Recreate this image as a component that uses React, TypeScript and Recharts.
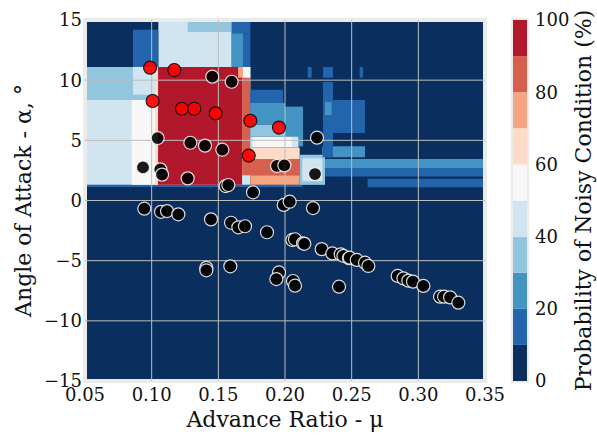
import {
  ScatterChart,
  Scatter,
  XAxis,
  YAxis,
  ReferenceArea,
  ReferenceLine,
  BarChart,
  Bar,
} from "recharts";

const muTicks = [0.05, 0.1, 0.15, 0.2, 0.25, 0.3, 0.35];
const aoaTicks = [-15, -10, -5, 0, 5, 10, 15];
const probTicks = [0, 20, 40, 60, 80, 100];

// RdBu_r, 10 levels (0-10%, 10-20%, ... 90-100%)
const levelColors = [
  "#0a2f5f",
  "#2265ac",
  "#4393c3",
  "#92c5de",
  "#d1e5f0",
  "#f7f7f7",
  "#fddbc7",
  "#f4a582",
  "#d6604d",
  "#b2182b",
];

// predicted probability regions: [mu1, mu2, aoa1, aoa2, level], painted in order
const regions = [
  [0.05, 0.35, -15, 15, 0],
  [0.05, 0.213, 1.12, 1.32, 1],
  [0.05, 0.174, 1.3, 11.1, 4],
  [0.105, 0.16, 11.1, 15, 4],
  [0.127, 0.16, 14.0, 15, 3],
  [0.16, 0.174, 13.9, 15, 1],
  [0.16, 0.1685, 11.1, 13.9, 2],
  [0.1685, 0.174, 11.1, 13.9, 1],
  [0.086, 0.105, 11.1, 14.2, 1],
  [0.05, 0.105, 8.35, 11.1, 3],
  [0.086, 0.105, 8.8, 11.1, 4],
  [0.085, 0.1025, 1.3, 8.35, 5],
  [0.1025, 0.1048, 1.3, 10.8, 6],
  [0.1048, 0.1678, 1.3, 11.1, 9],
  [0.1648, 0.1685, 10.2, 11.1, 7],
  [0.1685, 0.174, 10.2, 11.1, 5],
  [0.1678, 0.174, 3.4, 10.2, 8],
  [0.174, 0.1985, 8.1, 9.2, 1],
  [0.174, 0.2, 6.3, 8.1, 2],
  [0.2, 0.2135, 4.5, 7.8, 2],
  [0.174, 0.2, 5.3, 6.3, 3],
  [0.174, 0.21, 4.4, 5.3, 4],
  [0.176, 0.205, 4.45, 5.25, 5],
  [0.174, 0.211, 3.4, 4.4, 6],
  [0.1678, 0.211, 2.1, 3.4, 8],
  [0.174, 0.211, 1.3, 2.1, 7],
  [0.211, 0.23, 1.3, 3.8, 3],
  [0.213, 0.228, 1.6, 3.5, 4],
  [0.228, 0.26, 3.6, 4.5, 2],
  [0.23, 0.35, 2.7, 3.45, 2],
  [0.23, 0.35, 2.0, 2.7, 1],
  [0.262, 0.35, 1.1, 1.8, 1],
  [0.2285, 0.236, 3.6, 9.85, 1],
  [0.23, 0.26, 5.6, 8.35, 1],
  [0.23, 0.235, 7.1, 8.2, 2],
  [0.217, 0.22, 10.2, 11.1, 1],
  [0.2285, 0.236, 10.2, 11.1, 1],
  [0.256, 0.2585, 10.2, 11.1, 1],
];

// measured conditions [mu, aoa]
const quietPoints = [
  [0.1455, 10.29], [0.16, 9.87], [0.224, 5.22], [0.1045, 5.19], [0.129, 4.8],
  [0.14, 4.56], [0.153, 4.22], [0.194, 2.87], [0.1995, 2.92], [0.0935, 2.75],
  [0.1065, 2.59], [0.1078, 2.15], [0.127, 1.84], [0.2225, 2.2], [0.1555, 1.2],
  [0.1575, 1.29], [0.176, 0.68], [0.0945, -0.68], [0.107, -0.94], [0.1115, -0.88],
  [0.12, -1.15], [0.1445, -1.57], [0.1595, -1.85], [0.165, -2.23], [0.17, -2.14],
  [0.1865, -2.64], [0.199, -0.37], [0.2035, -0.1], [0.221, -0.63], [0.2055, -3.28],
  [0.2075, -3.22], [0.2135, -3.56], [0.2145, -3.6], [0.2275, -4.04], [0.2355, -4.4],
  [0.2418, -4.47], [0.2438, -4.6], [0.248, -4.8], [0.2485, -4.75], [0.2538, -4.94],
  [0.26, -5.17], [0.2625, -5.44], [0.141, -5.6], [0.141, -5.8], [0.159, -5.47],
  [0.1955, -5.98], [0.1935, -6.53], [0.206, -6.69], [0.2075, -7.08], [0.2405, -7.16],
  [0.2845, -6.27], [0.2888, -6.47], [0.2925, -6.66], [0.296, -6.74], [0.3038, -7.1],
  [0.3163, -7.99], [0.3193, -7.99], [0.3238, -8.05], [0.33, -8.49],
];

const noisyPoints = [
  [0.0988, 11.04], [0.117, 10.84], [0.1007, 8.27], [0.1227, 7.63], [0.132, 7.63],
  [0.148, 7.24], [0.174, 6.63], [0.1955, 6.06], [0.1728, 3.73],
];

const FONT = "DejaVu Serif";
const tickStyle = { fontFamily: FONT, fontSize: 18, fill: "#111" };
const labelStyle = { fontFamily: FONT, fontSize: 22, fill: "#111" };

const toRows = (pts: number[][]) => pts.map(([mu, aoa]) => ({ mu, aoa }));
const fmtNum = (v: number) => (v < 0 ? "\u2212" + Math.abs(v) : String(v));

const quietDot = (p: any) => (
  <circle cx={p.cx} cy={p.cy} r={6.5} fill="#000" fillOpacity={0.9} stroke="#fff" strokeOpacity={0.85} strokeWidth={1.2} />
);
const noisyDot = (p: any) => (
  <circle cx={p.cx} cy={p.cy} r={6.5} fill="#ff0000" fillOpacity={0.92} stroke="#111" strokeWidth={1.1} />
);

const rotLabel = (text: string, dx: number) => (props: any) => {
  const vb = props.viewBox;
  const x = vb.x + dx;
  const y = vb.y + vb.height / 2;
  return (
    <text x={x} y={y} transform={`rotate(-90 ${x} ${y})`} textAnchor="middle" dy="0.355em" style={labelStyle}>
      {text}
    </text>
  );
};

const bottomLabel = (text: string) => (props: any) => {
  const vb = props.viewBox;
  return (
    <text x={vb.x + vb.width / 2} y={vb.y + 46} textAnchor="middle" style={labelStyle}>
      {text}
    </text>
  );
};

const cbRow = [Object.fromEntries(levelColors.map((_, i) => [`b${i}`, 10]))];

export default function App() {
  return (
    <div style={{ position: "absolute", left: 0, top: 0, width: 597, height: 439, background: "#fff" }}>
      <div style={{ position: "absolute", left: 0, top: 0 }}>
        <ScatterChart width={530} height={439} margin={{ top: 20, right: 45, bottom: 0, left: 0 }}>
          <XAxis
            type="number"
            dataKey="mu"
            domain={[0.05, 0.35]}
            ticks={muTicks}
            allowDataOverflow
            tickFormatter={(v: number) => v.toFixed(2)}
            tick={tickStyle}
            tickLine={false}
            axisLine={false}
            tickSize={0}
            tickMargin={7}
            height={58}
            label={{ content: bottomLabel("Advance Ratio - \u03bc") }}
          />
          <YAxis
            type="number"
            dataKey="aoa"
            domain={[-15, 15]}
            ticks={aoaTicks}
            allowDataOverflow
            tickFormatter={fmtNum}
            tick={tickStyle}
            tickLine={false}
            axisLine={false}
            tickSize={0}
            tickMargin={3}
            width={85}
            label={{ content: rotLabel("Angle of Attack - \u03b1, \u00b0", 23) }}
          />
          {regions.map(([x1, x2, y1, y2, lv], i) => (
            <ReferenceArea
              key={`r${i}`}
              x1={x1}
              x2={x2}
              y1={y1}
              y2={y2}
              fill={levelColors[lv]}
              fillOpacity={1}
              stroke="none"
              ifOverflow="hidden"
            />
          ))}
          {muTicks.slice(1, -1).map((v) => (
            <ReferenceLine key={`gx${v}`} x={v} stroke="#bdbdbd" strokeWidth={1} />
          ))}
          {aoaTicks.slice(1, -1).map((v) => (
            <ReferenceLine key={`gy${v}`} y={v} stroke="#bdbdbd" strokeWidth={1} />
          ))}
          <ReferenceArea y1={-15} y2={15} fill="none" stroke="#ebebeb" strokeWidth={4} ifOverflow="visible" />
          <Scatter data={toRows(quietPoints)} shape={quietDot} isAnimationActive={false} />
          <Scatter data={toRows(noisyPoints)} shape={noisyDot} isAnimationActive={false} />
        </ScatterChart>
      </div>
      <div style={{ position: "absolute", left: 500, top: 0 }}>
        <BarChart width={97} height={439} data={cbRow} barCategoryGap={0} margin={{ top: 20, right: 0, bottom: 58, left: 13 }}>
          <XAxis hide type="category" />
          <YAxis
            type="number"
            orientation="right"
            domain={[0, 100]}
            ticks={probTicks}
            tick={tickStyle}
            tickLine={false}
            axisLine={false}
            tickSize={0}
            tickMargin={8}
            width={70}
            label={{ content: rotLabel("Probability of Noisy Condition (%)", 56) }}
          />
          {levelColors.map((c, i) => (
            <Bar key={`b${i}`} dataKey={`b${i}`} stackId="cb" fill={c} isAnimationActive={false} />
          ))}
          <ReferenceArea y1={0} y2={100} fill="none" stroke="#ebebeb" strokeWidth={4} ifOverflow="visible" />
        </BarChart>
      </div>
    </div>
  );
}
